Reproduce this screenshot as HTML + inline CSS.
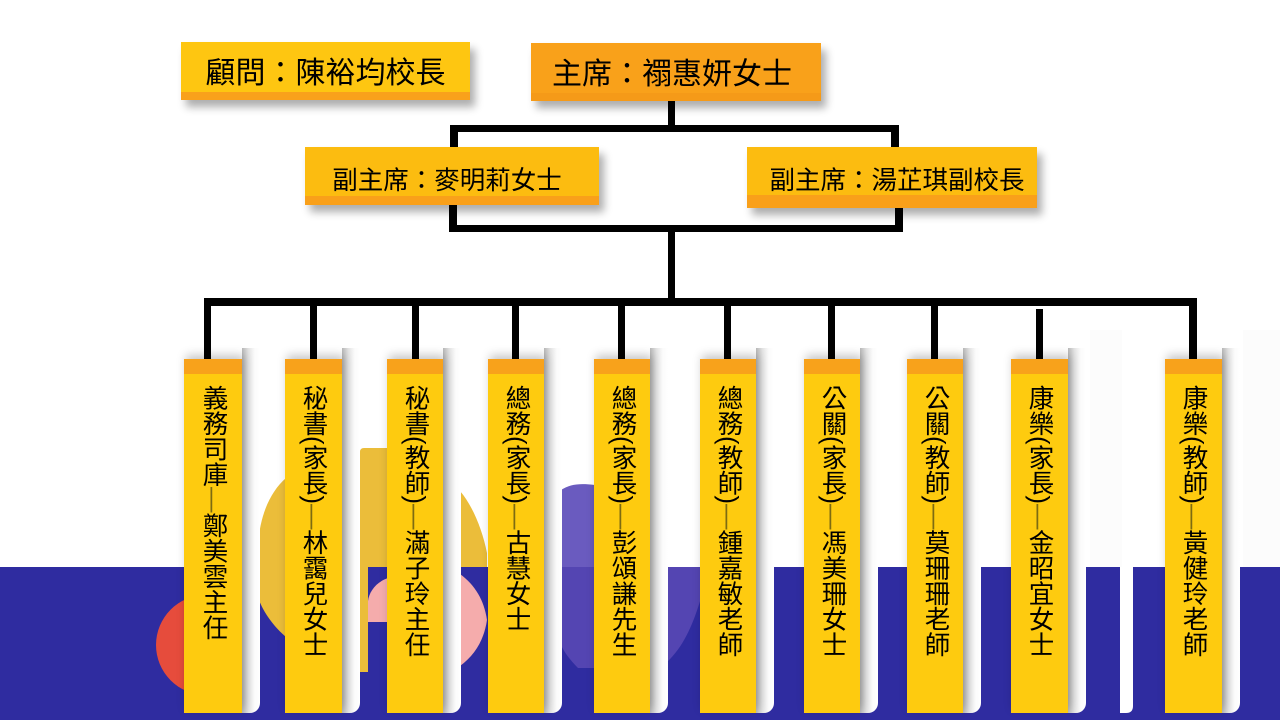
<!DOCTYPE html>
<html>
<head>
<meta charset="utf-8">
<style>
html,body{margin:0;padding:0;}
body{width:1280px;height:720px;position:relative;overflow:hidden;background:#fff;font-family:"Liberation Sans","Noto Sans CJK TC",sans-serif;}
.abs{position:absolute;}
.ln{position:absolute;background:#000;}
.box{position:absolute;box-sizing:border-box;color:#000;display:flex;align-items:center;justify-content:center;white-space:nowrap;box-shadow:5px 7px 8px rgba(0,0,0,0.32);}
.strip{position:absolute;top:348px;height:365px;width:18px;background:linear-gradient(to right,#b9b9b9 0%,#e2e2e2 35%,#fbfbfb 70%,#fff 100%);border-bottom-right-radius:10px;}
.col{position:absolute;top:359px;height:354px;box-sizing:border-box;background:#fecb0f;border-top:15px solid #f8a21b;box-shadow:2px -4px 9px rgba(0,0,0,0.22);}
.col .t{position:absolute;top:11px;width:26px;writing-mode:vertical-rl;text-orientation:mixed;font-size:25.5px;line-height:26px;color:#000;white-space:nowrap;}
.d{color:#7d6b12;}
</style>
</head>
<body>
<!-- background -->
<svg class="abs" style="left:0;top:0" width="1280" height="720" viewBox="0 0 1280 720">
  <rect x="0" y="0" width="1280" height="720" fill="#ffffff"/>
  <rect x="1090" y="330" width="32" height="237" fill="#fcfcfc"/>
  <rect x="1243" y="330" width="37" height="237" fill="#fcfcfc"/>
  <rect x="0" y="567" width="1280" height="153" fill="#2f2ca0"/>
  <circle cx="206" cy="645" r="50" fill="#e64c3c"/>
  <!-- gap A gold -->
  <path d="M258,545 C260,515 270,492 286,478 L286,637 C272,625 262,610 258,597 Z" fill="#ebbd3a"/>
  <!-- gap B -->
  <path d="M360,452 Q360,448 364,448 H388 V567 H368 V672 H360 Z" fill="#ebbd3a"/>
  <path d="M388,578 C376,582 369,592 368,601 V622 H388 Z" fill="#f5acac"/>
  <!-- gap C -->
  <path d="M460,491 C472,505 482,528 487,553 V567 H460 Z" fill="#ebbd3a"/>
  <path d="M460,574 C475,585 484,600 487,620 C484,640 475,655 460,666 Z" fill="#f5acac"/>
  <!-- gap D purple -->
  <path d="M561,490 C570,484 580,483 595,485 V567 H561 Z" fill="#6a5bbf"/>
  <path d="M561,567 H595 V668 H578 C570,660 564,652 561,645 Z" fill="#5445b2"/>
  <!-- gap E -->
  <path d="M667,567 H701 V598 C692,628 682,648 667,662 Z" fill="#5445b2"/>
  <!-- extra white strip -->
  <path d="M1120,567 H1133 V706 Q1133,713 1126,713 H1120 Z" fill="#ffffff"/>
</svg>

<!-- column white strips -->
<div class="strip" style="left:242px"></div>
<div class="strip" style="left:342px"></div>
<div class="strip" style="left:443px"></div>
<div class="strip" style="left:544px"></div>
<div class="strip" style="left:650px"></div>
<div class="strip" style="left:756px"></div>
<div class="strip" style="left:860px"></div>
<div class="strip" style="left:963px"></div>
<div class="strip" style="left:1068px"></div>
<div class="strip" style="left:1222px"></div>

<!-- columns -->
<div class="col" style="left:184px;width:58px"><div class="t" style="left:16px">義務司庫<span class="d">—</span>鄭美雲主任</div></div>
<div class="col" style="left:285px;width:57px"><div class="t" style="left:15px">秘書(家長)<span class="d">—</span>林靄兒女士</div></div>
<div class="col" style="left:387px;width:56px"><div class="t" style="left:15px">秘書(教師)<span class="d">—</span>滿子玲主任</div></div>
<div class="col" style="left:488px;width:56px"><div class="t" style="left:15px">總務(家長)<span class="d">—</span>古慧女士</div></div>
<div class="col" style="left:594px;width:56px"><div class="t" style="left:15px">總務(家長)<span class="d">—</span>彭頌謙先生</div></div>
<div class="col" style="left:700px;width:56px"><div class="t" style="left:15px">總務(教師)<span class="d">—</span>鍾嘉敏老師</div></div>
<div class="col" style="left:804px;width:56px"><div class="t" style="left:15px">公關(家長)<span class="d">—</span>馮美珊女士</div></div>
<div class="col" style="left:907px;width:56px"><div class="t" style="left:15px">公關(教師)<span class="d">—</span>莫珊珊老師</div></div>
<div class="col" style="left:1011px;width:57px"><div class="t" style="left:15px">康樂(家長)<span class="d">—</span>金昭宜女士</div></div>
<div class="col" style="left:1165px;width:57px"><div class="t" style="left:15px">康樂(教師)<span class="d">—</span>黃健玲老師</div></div>

<!-- connectors -->
<div class="ln" style="left:668px;top:100px;width:7px;height:32px"></div>
<div class="ln" style="left:450px;top:125px;width:449px;height:7px"></div>
<div class="ln" style="left:450px;top:125px;width:8px;height:23px"></div>
<div class="ln" style="left:891px;top:125px;width:8px;height:23px"></div>
<div class="ln" style="left:449px;top:204px;width:8px;height:28px"></div>
<div class="ln" style="left:895px;top:206px;width:8px;height:26px"></div>
<div class="ln" style="left:449px;top:225px;width:454px;height:7px"></div>
<div class="ln" style="left:668px;top:225px;width:7px;height:80px"></div>
<div class="ln" style="left:204px;top:298px;width:993px;height:8px"></div>
<div class="ln" style="left:204px;top:298px;width:7px;height:61px"></div>
<div class="ln" style="left:310px;top:298px;width:7px;height:61px"></div>
<div class="ln" style="left:412px;top:298px;width:7px;height:61px"></div>
<div class="ln" style="left:512px;top:298px;width:7px;height:61px"></div>
<div class="ln" style="left:618px;top:298px;width:7px;height:61px"></div>
<div class="ln" style="left:724px;top:298px;width:7px;height:61px"></div>
<div class="ln" style="left:828px;top:298px;width:7px;height:61px"></div>
<div class="ln" style="left:931px;top:298px;width:7px;height:61px"></div>
<div class="ln" style="left:1036px;top:309px;width:7px;height:50px"></div>
<div class="ln" style="left:1189px;top:298px;width:8px;height:61px"></div>

<!-- top boxes -->
<div class="box" style="left:181px;top:42px;width:289px;height:58px;background:linear-gradient(to bottom,#fec611 0,#fec611 50px,#f9a11b 50px);font-size:30px;padding-bottom:2px;">顧問：陳裕均校長</div>
<div class="box" style="left:531px;top:43px;width:290px;height:58px;background:linear-gradient(to bottom,#f9a11a 0,#f9a11a 50px,#f59a18 50px);font-size:30px;padding-right:8px;padding-bottom:2px;">主席：禤惠妍女士</div>
<div class="box" style="left:305px;top:147px;width:294px;height:58px;background:linear-gradient(to bottom,#fcbc10 0,#fcbc10 49px,#f9a01a 49px);font-size:25.5px;padding-right:10px;padding-top:4px;">副主席：麥明莉女士</div>
<div class="box" style="left:747px;top:147px;width:290px;height:61px;background:linear-gradient(to bottom,#fcbc10 0,#fcbc10 48px,#f9a01a 48px);font-size:25.5px;padding-left:10px;padding-top:2px;">副主席：湯芷琪副校長</div>
</body>
</html>
